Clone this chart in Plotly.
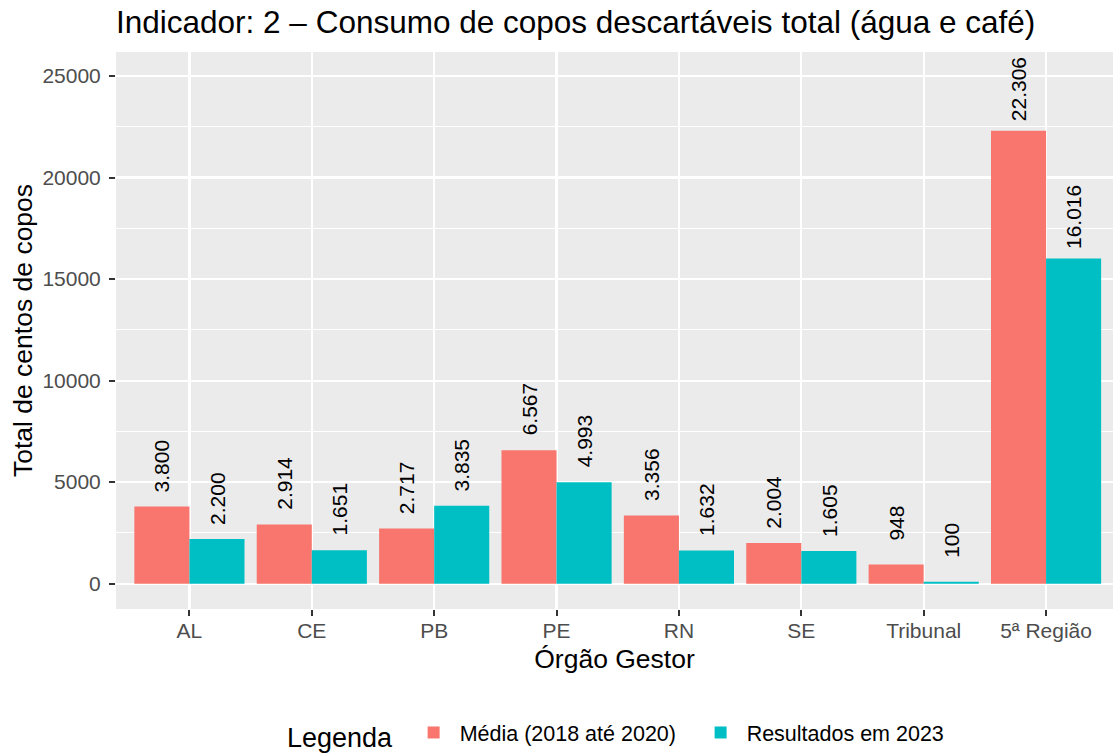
import plotly.graph_objects as go

categories = ["AL", "CE", "PB", "PE", "RN", "SE", "Tribunal", "5ª Região"]
media_2018_2020 = [3800, 2914, 2717, 6567, 3356, 2004, 948, 22306]
resultados_2023 = [2200, 1651, 3835, 4993, 1632, 1605, 100, 16016]
series_names = ["Média (2018 até 2020)", "Resultados em 2023"]
y_ticks = [0, 5000, 10000, 15000, 20000, 25000]

RED = "#F8766D"
TEAL = "#00BFC4"
FONT = "Liberation Sans, Arial, sans-serif"

W, H = 1113, 753
M_L, M_R, M_T, M_B = 116, 0, 52, 144


def fmt(v):
    return f"{v:,}".replace(",", ".")


fig = go.Figure()
fig.add_trace(go.Bar(x=categories, y=media_2018_2020, name=series_names[0],
                     marker=dict(color=RED, line=dict(width=0)), hoverinfo="skip"))
fig.add_trace(go.Bar(x=categories, y=resultados_2023, name=series_names[1],
                     marker=dict(color=TEAL, line=dict(width=0)), hoverinfo="skip"))

# value labels (rotated) above bars
cat_px = (W - M_L - M_R) / (7.547 + 0.6)
offset = 0.225 * cat_px
annotations = []
for vals, sh in ((media_2018_2020, -offset), (resultados_2023, offset)):
    for c, v in zip(categories, vals):
        annotations.append(dict(x=c, y=v, xref="x", yref="y", text=fmt(v),
                                showarrow=False, textangle=-90, xshift=sh, yshift=41,
                                xanchor="center", yanchor="middle",
                                font=dict(family=FONT, size=21, color="black")))

fig.update_layout(
    width=W, height=H,
    margin=dict(l=M_L, r=M_R, t=M_T, b=M_B, autoexpand=False),
    paper_bgcolor="white", plot_bgcolor="#EBEBEB",
    barmode="group", bargap=0.1, bargroupgap=0,
    font=dict(family=FONT, color="black"),
    title=dict(text="Indicador: 2 – Consumo de copos descartáveis total (água e café)",
               x=0, xref="paper", xanchor="left",
               y=1 - 21.5 / H, yref="container", yanchor="middle",
               font=dict(family=FONT, size=31.5, color="black")),
    xaxis=dict(range=[-0.6, 7.547], showgrid=True, gridcolor="white", gridwidth=2.2,
               ticks="outside", ticklen=6, tickwidth=2, tickcolor="#333333",
               ticklabelstandoff=-3,
               tickfont=dict(family=FONT, size=21, color="#4D4D4D"),
               title=dict(text="Órgão Gestor", font=dict(family=FONT, size=26.5, color="black"),
                          standoff=8),
               automargin=False, zeroline=False, showline=False, fixedrange=True),
    yaxis=dict(range=[-1247, 26181], tickvals=y_ticks, tickformat="d",
               showgrid=True, gridcolor="white", gridwidth=2.2,
               minor=dict(dtick=2500, tick0=0, showgrid=True, gridcolor="white",
                          gridwidth=1.1, ticks=""),
               ticks="outside", ticklen=6, tickwidth=2, tickcolor="#333333",
               ticklabelstandoff=4,
               tickfont=dict(family=FONT, size=21, color="#4D4D4D"),
               title=dict(text="Total de centos de copos",
                          font=dict(family=FONT, size=26.5, color="black"), standoff=2),
               automargin=False, zeroline=False, showline=False, fixedrange=True),
    legend=dict(orientation="h", x=(285 - M_L) / (W - M_L - M_R), xanchor="left", xref="paper",
                y=18 / H, yref="container", yanchor="middle",
                title=dict(text="Legenda ", side="left",
                           font=dict(family=FONT, size=27, color="black")),
                font=dict(family=FONT, size=21.5, color="black"),
                itemwidth=42, entrywidth=230, bgcolor="rgba(0,0,0,0)"),
    annotations=annotations,
    showlegend=True,
)

fig.write_html("out.html", config=dict(displayModeBar=False, staticPlot=True),
               post_script="document.body.style.margin='0';document.body.style.overflow='hidden';")
